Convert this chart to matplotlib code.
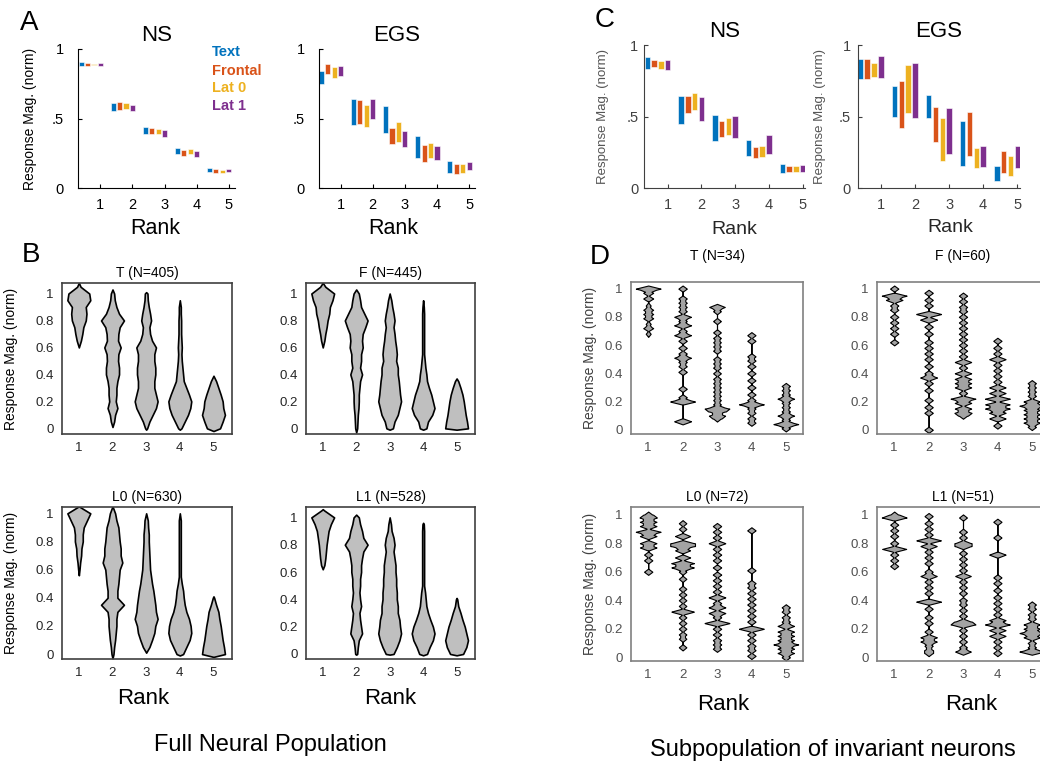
import numpy as np
import matplotlib.pyplot as plt

plt.rcParams['font.family'] = ['Liberation Sans', 'DejaVu Sans']

# ---------------- data ----------------
ranks = [1, 2, 3, 4, 5]
conditions = ['Text', 'Frontal', 'Lat 0', 'Lat 1']
cond_colors = ['#0072BD', '#D95319', '#EDB120', '#7E2F8E']

# floating bars (low / high) per condition, per rank
A_ns_low = [[0.878, 0.554, 0.388, 0.245, 0.117], [0.880, 0.561, 0.386, 0.232, 0.110],
            [0.885, 0.568, 0.388, 0.245, 0.110], [0.880, 0.554, 0.370, 0.225, 0.115]]
A_ns_high = [[0.904, 0.609, 0.439, 0.288, 0.144], [0.900, 0.617, 0.434, 0.273, 0.137],
             [0.895, 0.612, 0.427, 0.278, 0.132], [0.900, 0.600, 0.417, 0.266, 0.139]]
A_egs_low = [[0.746, 0.451, 0.393, 0.214, 0.108], [0.820, 0.458, 0.317, 0.189, 0.103],
             [0.794, 0.439, 0.329, 0.216, 0.108], [0.806, 0.496, 0.297, 0.201, 0.127]]
A_egs_high = [[0.844, 0.642, 0.588, 0.372, 0.192], [0.890, 0.635, 0.434, 0.309, 0.175],
              [0.873, 0.595, 0.475, 0.324, 0.175], [0.878, 0.642, 0.412, 0.304, 0.189]]
C_ns_low = [[0.835, 0.451, 0.327, 0.224, 0.105], [0.844, 0.524, 0.360, 0.213, 0.112],
            [0.835, 0.547, 0.374, 0.220, 0.112], [0.828, 0.472, 0.353, 0.236, 0.110]]
C_ns_high = [[0.917, 0.643, 0.507, 0.337, 0.166], [0.898, 0.643, 0.472, 0.290, 0.152],
             [0.888, 0.664, 0.489, 0.297, 0.152], [0.895, 0.633, 0.503, 0.370, 0.159]]
C_egs_low = [[0.764, 0.494, 0.488, 0.152, 0.051], [0.764, 0.420, 0.324, 0.222, 0.105],
             [0.778, 0.523, 0.191, 0.138, 0.086], [0.769, 0.490, 0.240, 0.149, 0.142]]
C_egs_high = [[0.900, 0.711, 0.651, 0.467, 0.156], [0.900, 0.745, 0.565, 0.532, 0.261],
              [0.876, 0.857, 0.488, 0.282, 0.226], [0.923, 0.875, 0.562, 0.296, 0.292]]

# full population: relative violin widths at levels 0, .05, ... 1.05
levels = np.round(np.arange(0, 1.051, 0.05), 2)
B_T = [[0, 0, 0, 0, 0, 0, 0, 0, 0, 0, 0, 0, 0, 6, 10, 13, 20, 22, 20, 33, 30, 5],
       [0, 5, 8, 15, 10, 12, 12, 15, 20, 20, 17, 18, 25, 17, 18, 22, 35, 20, 12, 7, 5, 0],
       [3, 10, 20, 30, 35, 30, 25, 25, 28, 28, 25, 25, 30, 18, 12, 10, 15, 12, 8, 5, 4, 0],
       [5, 15, 25, 32, 35, 28, 20, 12, 10, 8, 6, 5, 6, 5, 4, 4, 4, 3, 3, 0, 0, 0],
       [20, 28, 35, 30, 28, 22, 15, 8, 0, 0, 0, 0, 0, 0, 0, 0, 0, 0, 0, 0, 0, 0]]
B_T_lo = [0.60, 0.01, -0.01, -0.01, -0.02]
B_T_hi = [1.08, 1.03, 1.01, 0.95, 0.39]
B_F = [[0, 0, 0, 0, 0, 0, 0, 0, 0, 0, 0, 0, 0, 5, 8, 12, 15, 20, 22, 30, 35, 8],
       [3, 4, 5, 7, 8, 8, 10, 12, 18, 12, 15, 15, 20, 18, 20, 28, 35, 25, 15, 12, 8, 0],
       [10, 15, 25, 30, 35, 32, 30, 28, 25, 25, 20, 22, 20, 17, 15, 12, 15, 12, 8, 5, 0, 0],
       [10, 15, 28, 35, 30, 25, 18, 12, 10, 7, 5, 3, 3, 3, 3, 3, 3, 3, 2, 0, 0, 0],
       [35, 32, 28, 25, 22, 18, 12, 5, 0, 0, 0, 0, 0, 0, 0, 0, 0, 0, 0, 0, 0, 0]]
B_F_lo = [0.60, -0.03, -0.01, -0.01, -0.01]
B_F_hi = [1.08, 1.03, 1.00, 0.95, 0.37]
B_L0 = [[0, 0, 0, 0, 0, 0, 0, 0, 0, 0, 0, 0, 2, 4, 7, 8, 12, 12, 15, 25, 35, 0],
        [3, 5, 8, 10, 12, 12, 15, 35, 15, 15, 18, 20, 22, 30, 25, 25, 22, 20, 18, 12, 8, 0],
        [0, 10, 18, 25, 28, 35, 30, 28, 25, 22, 18, 15, 12, 11, 10, 9, 8, 8, 6, 5, 0, 0],
        [10, 20, 30, 35, 33, 28, 20, 15, 12, 10, 6, 3, 3, 3, 3, 3, 3, 3, 3, 3, 0, 0],
        [35, 32, 28, 25, 22, 18, 15, 8, 2, 0, 0, 0, 0, 0, 0, 0, 0, 0, 0, 0, 0, 0]]
B_L0_lo = [0.56, -0.03, 0.01, -0.01, -0.02]
B_L0_hi = [1.05, 1.05, 1.00, 1.00, 0.41]
B_L1 = [[0, 0, 0, 0, 0, 0, 0, 0, 0, 0, 0, 0, 0, 5, 8, 10, 12, 15, 18, 25, 35, 5],
        [3, 5, 8, 18, 15, 12, 10, 15, 12, 10, 12, 12, 15, 15, 18, 22, 35, 22, 18, 12, 8, 0],
        [12, 22, 30, 35, 32, 30, 25, 25, 22, 22, 20, 20, 18, 18, 15, 12, 15, 12, 6, 4, 0, 0],
        [12, 20, 30, 35, 30, 22, 15, 10, 8, 6, 3, 3, 3, 3, 3, 3, 3, 3, 3, 2, 0, 0],
        [20, 30, 35, 30, 25, 18, 12, 5, 2, 0, 0, 0, 0, 0, 0, 0, 0, 0, 0, 0, 0, 0]]
B_L1_lo = [0.62, -0.005, -0.005, -0.01, -0.01]
B_L1_hi = [1.06, 1.02, 1.00, 0.96, 0.41]

# invariant subpopulation: response values and neuron counts per rank
D_T_vals = [[1.0, 0.97, 0.93, 0.88, 0.85, 0.82, 0.79, 0.75, 0.72, 0.68],
            [1.0, 0.93, 0.9, 0.87, 0.84, 0.8, 0.77, 0.74, 0.7, 0.67, 0.63, 0.58, 0.54, 0.51, 0.48, 0.45,
             0.41, 0.29, 0.23, 0.2, 0.06],
            [0.87, 0.84, 0.77, 0.69, 0.65, 0.62, 0.59, 0.56, 0.5, 0.47, 0.44, 0.4, 0.36, 0.33, 0.3, 0.27,
             0.24, 0.21, 0.18, 0.15, 0.13, 0.1, 0.08],
            [0.67, 0.63, 0.52, 0.49, 0.45, 0.4, 0.35, 0.3, 0.25, 0.21, 0.18, 0.15, 0.12, 0.08, 0.05],
            [0.31, 0.28, 0.25, 0.22, 0.19, 0.16, 0.13, 0.1, 0.07, 0.04, 0.01]]
D_T_counts = [[5, 2, 2, 1, 2, 2, 2, 1, 2, 1],
              [1, 1, 1, 1, 1, 2, 1, 2, 1, 2, 1, 1, 1, 2, 1, 1, 1, 1, 1, 3, 2],
              [2, 1, 1, 1, 1, 1, 1, 1, 1, 1, 1, 1, 1, 1, 1, 1, 1, 1, 1, 3, 2, 2, 1],
              [1, 1, 1, 1, 1, 1, 1, 1, 1, 1, 3, 1, 1, 1, 1],
              [1, 1, 1, 2, 1, 1, 1, 2, 1, 3, 1]]
D_F_vals = [[1.0, 0.95, 0.92, 0.88, 0.85, 0.8, 0.76, 0.72, 0.68, 0.62],
            [0.97, 0.92, 0.88, 0.82, 0.78, 0.73, 0.68, 0.62, 0.58, 0.54, 0.5, 0.45, 0.4, 0.37, 0.33, 0.28,
             0.21, 0.16, 0.12, 0.0],
            [0.95, 0.91, 0.87, 0.84, 0.8, 0.76, 0.72, 0.68, 0.64, 0.6, 0.56, 0.52, 0.48, 0.44, 0.4, 0.36,
             0.33, 0.3, 0.26, 0.22, 0.19, 0.15, 0.12, 0.1],
            [0.63, 0.58, 0.54, 0.5, 0.46, 0.42, 0.38, 0.34, 0.3, 0.26, 0.22, 0.18, 0.15, 0.12, 0.08, 0.03],
            [0.33, 0.3, 0.27, 0.24, 0.2, 0.17, 0.14, 0.11, 0.08, 0.05, 0.02]]
D_F_counts = [[1, 3, 2, 1, 1, 1, 1, 1, 1, 1],
              [1, 1, 1, 3, 2, 1, 1, 1, 1, 1, 1, 1, 1, 2, 1, 1, 1, 1, 1, 1],
              [1, 1, 1, 1, 1, 1, 1, 1, 1, 1, 1, 1, 2, 1, 2, 2, 2, 2, 1, 3, 2, 2, 2, 1],
              [1, 1, 1, 2, 1, 1, 1, 1, 2, 2, 3, 3, 3, 2, 2, 1],
              [1, 1, 1, 1, 2, 3, 2, 2, 2, 2, 1]]
D_L0_vals = [[1.0, 0.98, 0.95, 0.92, 0.88, 0.85, 0.8, 0.77, 0.72, 0.68, 0.6],
             [0.94, 0.9, 0.85, 0.8, 0.78, 0.75, 0.7, 0.66, 0.63, 0.6, 0.55, 0.48, 0.44, 0.4, 0.36, 0.32,
              0.28, 0.24, 0.2, 0.16, 0.13, 0.07],
             [0.92, 0.88, 0.84, 0.8, 0.76, 0.72, 0.68, 0.63, 0.58, 0.54, 0.5, 0.46, 0.42, 0.38, 0.35, 0.31,
              0.28, 0.24, 0.2, 0.16, 0.12, 0.09, 0.06],
             [0.89, 0.61, 0.52, 0.49, 0.45, 0.41, 0.37, 0.33, 0.29, 0.25, 0.2, 0.16, 0.12, 0.08, 0.05, 0.01],
             [0.35, 0.32, 0.28, 0.25, 0.22, 0.18, 0.15, 0.12, 0.09, 0.06, 0.03, 0.0]]
D_L0_counts = [[1, 2, 2, 2, 3, 2, 2, 2, 1, 1, 1],
               [1, 1, 2, 3, 3, 2, 2, 3, 3, 1, 1, 1, 1, 1, 1, 3, 1, 1, 1, 1, 1, 1],
               [1, 1, 1, 2, 1, 1, 1, 1, 1, 1, 1, 1, 2, 1, 2, 2, 1, 3, 1, 1, 1, 1, 1],
               [1, 1, 1, 1, 1, 1, 1, 1, 1, 1, 3, 1, 1, 1, 1, 1],
               [1, 1, 1, 1, 2, 2, 2, 2, 3, 2, 2, 1]]
D_L1_vals = [[1.0, 0.98, 0.93, 0.89, 0.85, 0.8, 0.76, 0.72, 0.68, 0.64],
             [0.99, 0.94, 0.9, 0.86, 0.82, 0.78, 0.74, 0.7, 0.66, 0.6, 0.57, 0.53, 0.49, 0.45, 0.39, 0.34,
              0.28, 0.24, 0.18, 0.14, 0.11, 0.08, 0.05, 0.03],
             [0.98, 0.88, 0.84, 0.8, 0.78, 0.73, 0.69, 0.65, 0.61, 0.57, 0.53, 0.49, 0.45, 0.4, 0.37, 0.33,
              0.29, 0.25, 0.23, 0.19, 0.15, 0.11, 0.07, 0.04],
             [0.95, 0.84, 0.72, 0.56, 0.52, 0.47, 0.42, 0.38, 0.34, 0.3, 0.26, 0.23, 0.19, 0.15, 0.11, 0.07, 0.03],
             [0.37, 0.34, 0.3, 0.27, 0.23, 0.2, 0.17, 0.14, 0.1, 0.07, 0.04]]
D_L1_counts = [[1, 3, 1, 1, 1, 1, 3, 1, 1, 1],
               [1, 1, 1, 1, 3, 2, 1, 1, 1, 1, 2, 1, 1, 1, 3, 1, 1, 1, 1, 2, 2, 1, 1, 1],
               [1, 1, 1, 2, 2, 1, 1, 1, 1, 2, 1, 1, 1, 1, 1, 1, 1, 2, 3, 1, 1, 1, 1, 2],
               [1, 1, 2, 1, 1, 1, 1, 1, 1, 1, 2, 3, 2, 2, 1, 1, 1],
               [1, 1, 1, 1, 2, 2, 3, 2, 1, 1, 3]]

B_titles = ['T (N=405)', 'F (N=445)', 'L0 (N=630)', 'L1 (N=528)']
D_titles = ['T (N=34)', 'F (N=60)', 'L0 (N=72)', 'L1 (N=51)']

# ---------------- layout helpers ----------------
W, H = 1040, 763
fig = plt.figure(figsize=(W / 100, H / 100), dpi=100)


def add_ax(l, t, r, b):
    return fig.add_axes([l / W, 1 - b / H, (r - l) / W, (b - t) / H])


def ftext(x, y, s, **kw):
    fig.text(x / W, 1 - y / H, s, **kw)


def bar_panel(ax, low, high, xlim, title, col, ypad):
    offs = [-0.6, -0.4, -0.2, 0.0]
    for i in range(4):
        lo = np.array(low[i])
        hi = np.array(high[i])
        ax.bar(np.array(ranks) + offs[i], hi - lo, bottom=lo, width=0.16,
               color=cond_colors[i], edgecolor='white', linewidth=0.4)
    ax.set_xlim(*xlim)
    ax.set_ylim(0, 1)
    ax.spines[['top', 'right']].set_visible(False)
    for s in ['left', 'bottom']:
        ax.spines[s].set_color(col)
        ax.spines[s].set_linewidth(0.8)
    ax.set_xticks(ranks)
    ax.set_yticks([0, 0.5, 1])
    ax.set_yticklabels(['0', '.5', '1'])
    ax.tick_params(direction='in', length=3, labelsize=10.5, color=col, labelcolor=col)
    ax.tick_params(axis='y', pad=ypad)
    ax.tick_params(axis='x', pad=7)
    ax.set_title(title, fontsize=16, pad=6)


def violin_axes(ax, ylim, xlim, title, tpad, box, lab):
    ax.set_xlim(*xlim)
    ax.set_ylim(*ylim)
    ax.set_xticks(ranks)
    ax.set_yticks([0, 0.2, 0.4, 0.6, 0.8, 1])
    ax.set_yticklabels(['0', '0.2', '0.4', '0.6', '0.8', '1'])
    ax.tick_params(length=0, labelsize=9.5, labelcolor=lab, pad=6)
    for s in ax.spines.values():
        s.set_color(box)
        s.set_linewidth(1.2)
    ax.set_title(title, fontsize=10, pad=tpad)


def profile_violins(ax, profs, los, his):
    for k, x in enumerate(ranks):
        p = np.array(profs[k], dtype=float)
        inside = (levels > los[k]) & (levels < his[k])
        ys = np.concatenate([[los[k]], levels[inside], [his[k]]])
        ws = np.concatenate([[0], p[inside], [0]]) / p.max() * 0.34
        ax.fill_betweenx(ys, x - ws, x + ws, facecolor='#bfbfbf', edgecolor='black', linewidth=1.2)


def kde_violins(ax, vals, counts, h=0.022):
    for k, x in enumerate(ranks):
        v = np.array(vals[k])
        c = np.array(counts[k], dtype=float)
        yy = np.linspace(v.min() - h, v.max() + h, 800)
        dens = (c[:, None] * np.clip(1 - np.abs(yy[None, :] - v[:, None]) / h, 0, None)).sum(0)
        w = dens / dens.max() * 0.36
        ax.fill_betweenx(yy, x - w, x + w, facecolor='#a3a3a3', edgecolor='black', linewidth=0.8)


# ---------------- A ----------------
ax = add_ax(78, 49, 235, 188)
bar_panel(ax, A_ns_low, A_ns_high, (0.3, 5.2), 'NS', 'black', 10)
ax.set_ylabel('Response Mag. (norm)', fontsize=10)
ax.yaxis.set_label_coords(-0.26, 0.5)
ax = add_ax(319, 49, 475, 188)
bar_panel(ax, A_egs_low, A_egs_high, (0.33, 5.18), 'EGS', 'black', 10)
for i, name in enumerate(conditions):
    ftext(212, [52, 71, 88, 106][i], name, color=cond_colors[i], fontsize=10.5,
          fontweight='bold', va='center', ha='left')
ftext(155, 228, 'Rank', fontsize=15.5, ha='center', va='center')
ftext(393, 228, 'Rank', fontsize=15.5, ha='center', va='center')

# ---------------- C ----------------
ax = add_ax(644, 45, 805, 188)
bar_panel(ax, C_ns_low, C_ns_high, (0.3, 5.07), 'NS', '#404040', 4)
ax.set_ylabel('Response Mag. (norm)', fontsize=9.5, color='#555555')
ax.yaxis.set_label_coords(-0.215, 0.5)
ax = add_ax(858, 45, 1020, 188)
bar_panel(ax, C_egs_low, C_egs_high, (0.33, 5.08), 'EGS', '#404040', 5)
ax.set_ylabel('Response Mag. (norm)', fontsize=9.5, color='#555555')
ax.yaxis.set_label_coords(-0.2, 0.5)
ftext(734, 229, 'Rank', fontsize=14, ha='center', va='center', color='#262626')
ftext(950, 227, 'Rank', fontsize=14, ha='center', va='center', color='#262626')

# ---------------- B ----------------
B_boxes = [(62, 283, 232, 434), (306, 283, 475, 434), (62, 507, 232, 659), (306, 507, 475, 659)]
B_ylims = [(-0.042, 1.078), (-0.042, 1.078), (-0.035, 1.045), (-0.037, 1.076)]
B_data = [(B_T, B_T_lo, B_T_hi), (B_F, B_F_lo, B_F_hi), (B_L0, B_L0_lo, B_L0_hi), (B_L1, B_L1_lo, B_L1_hi)]
for i in range(4):
    ax = add_ax(*B_boxes[i])
    violin_axes(ax, B_ylims[i], (0.5, 5.55), B_titles[i], 4, '#404040', '#262626')
    profile_violins(ax, *B_data[i])
    if i in (0, 2):
        ax.set_ylabel('Response Mag. (norm)', fontsize=10)
        ax.yaxis.set_label_coords(-0.26, 0.5)
ftext(143, 698, 'Rank', fontsize=16, ha='center', va='center')
ftext(390, 698, 'Rank', fontsize=16, ha='center', va='center')
ftext(270, 745, 'Full Neural Population', fontsize=17, ha='center', va='center')

# ---------------- D ----------------
D_boxes = [(631, 282, 803, 434), (877, 282, 1049, 434), (631, 507, 803, 661), (877, 507, 1049, 661)]
D_ylims = [(-0.03, 1.047), (-0.03, 1.047), (-0.026, 1.054), (-0.026, 1.054)]
D_data = [(D_T_vals, D_T_counts), (D_F_vals, D_F_counts), (D_L0_vals, D_L0_counts), (D_L1_vals, D_L1_counts)]
for i in range(4):
    ax = add_ax(*D_boxes[i])
    violin_axes(ax, D_ylims[i], (0.5, 5.5), D_titles[i], 16 if i < 2 else 4, '#808080', '#505050')
    kde_violins(ax, *D_data[i])
    if i in (0, 2):
        ax.set_ylabel('Response Mag. (norm)', fontsize=10, color='#404040')
        ax.yaxis.set_label_coords(-0.2, 0.5)
ftext(723, 705, 'Rank', fontsize=16, ha='center', va='center')
ftext(971, 705, 'Rank', fontsize=16, ha='center', va='center')
ftext(833, 750, 'Subpopulation of invariant neurons', fontsize=17, ha='center', va='center')

# panel letters
ftext(20, 23, 'A', fontsize=20, ha='left', va='center')
ftext(22, 255, 'B', fontsize=20, ha='left', va='center')
ftext(595, 20, 'C', fontsize=20, ha='left', va='center')
ftext(590, 257, 'D', fontsize=20, ha='left', va='center')

fig.savefig('out.png', dpi=100)
